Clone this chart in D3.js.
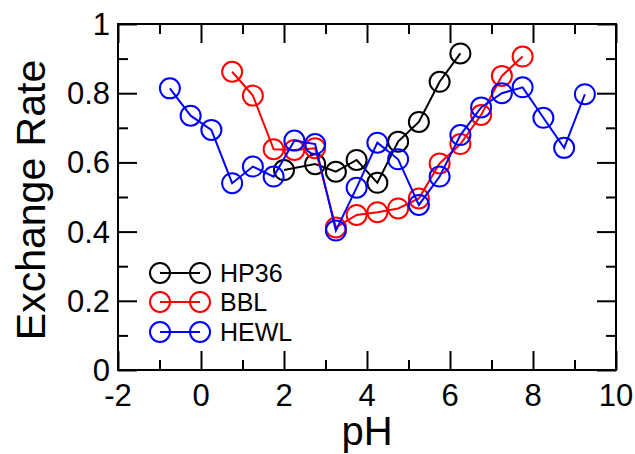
<!DOCTYPE html>
<html>
<head>
<meta charset="utf-8">
<script src="https://cdn.jsdelivr.net/npm/d3@7"></script>
<style>
  body { margin: 0; background: #fff; }
  svg { font-family: "Liberation Sans", Arial, sans-serif; }
</style>
</head>
<body>
<script>
// data
const hp36X = [2.0, 2.75, 3.25, 3.75, 4.25, 4.75, 5.25, 5.75, 6.25];
const hp36Y = [0.578, 0.595, 0.573, 0.607, 0.541, 0.660, 0.717, 0.833, 0.915];

const bblX = [0.75, 1.25, 1.75, 2.25, 2.75, 3.25, 3.75, 4.25, 4.75, 5.25, 5.75, 6.25, 6.75, 7.25, 7.75];
const bblY = [0.862, 0.793, 0.638, 0.636, 0.641, 0.412, 0.448, 0.456, 0.467, 0.496, 0.597, 0.653, 0.737, 0.850, 0.906];

const hewlX = [-0.75, -0.25, 0.25, 0.75, 1.25, 1.75, 2.25, 2.75, 3.25, 3.75, 4.25, 4.75, 5.25, 5.75, 6.25, 6.75, 7.25, 7.75, 8.25, 8.75, 9.25];
const hewlY = [0.814, 0.735, 0.694, 0.540, 0.588, 0.559, 0.663, 0.653, 0.403, 0.527, 0.657, 0.609, 0.477, 0.559, 0.679, 0.759, 0.800, 0.817, 0.729, 0.642, 0.797];

const seriesNames = ["HP36", "BBL", "HEWL"];
const seriesColors = ["#000000", "#ff0000", "#0000ff"];

const xTicks = [-2, 0, 2, 4, 6, 8, 10];
const yTicks = [0, 0.2, 0.4, 0.6, 0.8, 1];

const W = 635, H = 454;
const mLeft = 118, mRight = 616, mTop = 24, mBottom = 370;

const svg = d3.select("body").append("svg")
    .attr("width", W)
    .attr("height", H);

const x = d3.scaleLinear().domain([-2, 10]).range([mLeft, mRight]);
const y = d3.scaleLinear().domain([0, 1]).range([mBottom, mTop]);

// ticks, inward on all four sides
const majorLen = 19, minorLen = 10;
const xMinor = d3.range(-2, 10.01, 1).filter(v => !xTicks.includes(v));
const yMinor = d3.range(0.1, 1, 0.2);

function tickAxis(axisGen, tx, ty) {
  const g = svg.append("g").attr("transform", `translate(${tx},${ty})`).call(axisGen);
  g.select(".domain").remove();
  g.selectAll("line").attr("stroke", "#000").attr("stroke-width", 2);
  g.selectAll("text").remove();
  return g;
}

tickAxis(d3.axisTop(x).tickValues(xTicks).tickSize(majorLen), 0, mBottom);
tickAxis(d3.axisTop(x).tickValues(xMinor).tickSize(minorLen), 0, mBottom);
tickAxis(d3.axisBottom(x).tickValues(xTicks).tickSize(majorLen), 0, mTop);
tickAxis(d3.axisBottom(x).tickValues(xMinor).tickSize(minorLen), 0, mTop);
tickAxis(d3.axisRight(y).tickValues(yTicks).tickSize(majorLen), mLeft, 0);
tickAxis(d3.axisRight(y).tickValues(yMinor).tickSize(minorLen), mLeft, 0);
tickAxis(d3.axisLeft(y).tickValues(yTicks).tickSize(majorLen), mRight, 0);
tickAxis(d3.axisLeft(y).tickValues(yMinor).tickSize(minorLen), mRight, 0);

// tick labels
svg.append("g").selectAll("text")
  .data(xTicks)
  .enter().append("text")
    .attr("x", d => x(d))
    .attr("y", 406)
    .attr("text-anchor", "middle")
    .attr("font-size", 31)
    .text(d => d);

svg.append("g").selectAll("text")
  .data(yTicks)
  .enter().append("text")
    .attr("x", mLeft - 8)
    .attr("y", d => y(d) + 11)
    .attr("text-anchor", "end")
    .attr("font-size", 31)
    .text(d => d);

// axis titles
svg.append("text")
    .attr("x", (mLeft + mRight) / 2)
    .attr("y", 445)
    .attr("text-anchor", "middle")
    .attr("font-size", 40)
    .text("pH");

svg.append("text")
    .attr("transform", `translate(45,${(mTop + mBottom) / 2 + 3}) rotate(-90)`)
    .attr("text-anchor", "middle")
    .attr("font-size", 41)
    .text("Exchange Rate");

// data
const sets = [
  { xs: hp36X, ys: hp36Y },
  { xs: bblX, ys: bblY },
  { xs: hewlX, ys: hewlY }
];

const line = d3.line().x(d => x(d[0])).y(d => y(d[1]));

sets.forEach((s, i) => {
  const pts = s.xs.map((v, j) => [v, s.ys[j]]);
  const g = svg.append("g");
  g.append("path")
      .attr("d", line(pts))
      .attr("fill", "none")
      .attr("stroke", seriesColors[i])
      .attr("stroke-width", 2);
  g.selectAll("circle")
    .data(pts)
    .enter().append("circle")
      .attr("cx", d => x(d[0]))
      .attr("cy", d => y(d[1]))
      .attr("r", 10)
      .attr("fill", "none")
      .attr("stroke", seriesColors[i])
      .attr("stroke-width", 2);
});

// legend
const legY = [273, 302, 332];
seriesNames.forEach((name, i) => {
  const g = svg.append("g");
  g.append("line")
      .attr("x1", 160).attr("x2", 200)
      .attr("y1", legY[i]).attr("y2", legY[i])
      .attr("stroke", seriesColors[i])
      .attr("stroke-width", 2);
  [160, 200].forEach(cx => {
    g.append("circle")
        .attr("cx", cx).attr("cy", legY[i])
        .attr("r", 10)
        .attr("fill", "none")
        .attr("stroke", seriesColors[i])
        .attr("stroke-width", 2);
  });
  g.append("text")
      .attr("x", 220)
      .attr("y", legY[i] + 9)
      .attr("font-size", 25)
      .text(name);
});

// frame
svg.append("rect")
    .attr("x", mLeft).attr("y", mTop)
    .attr("width", mRight - mLeft).attr("height", mBottom - mTop)
    .attr("fill", "none")
    .attr("stroke", "#000")
    .attr("stroke-width", 2);
</script>
</body>
</html>
